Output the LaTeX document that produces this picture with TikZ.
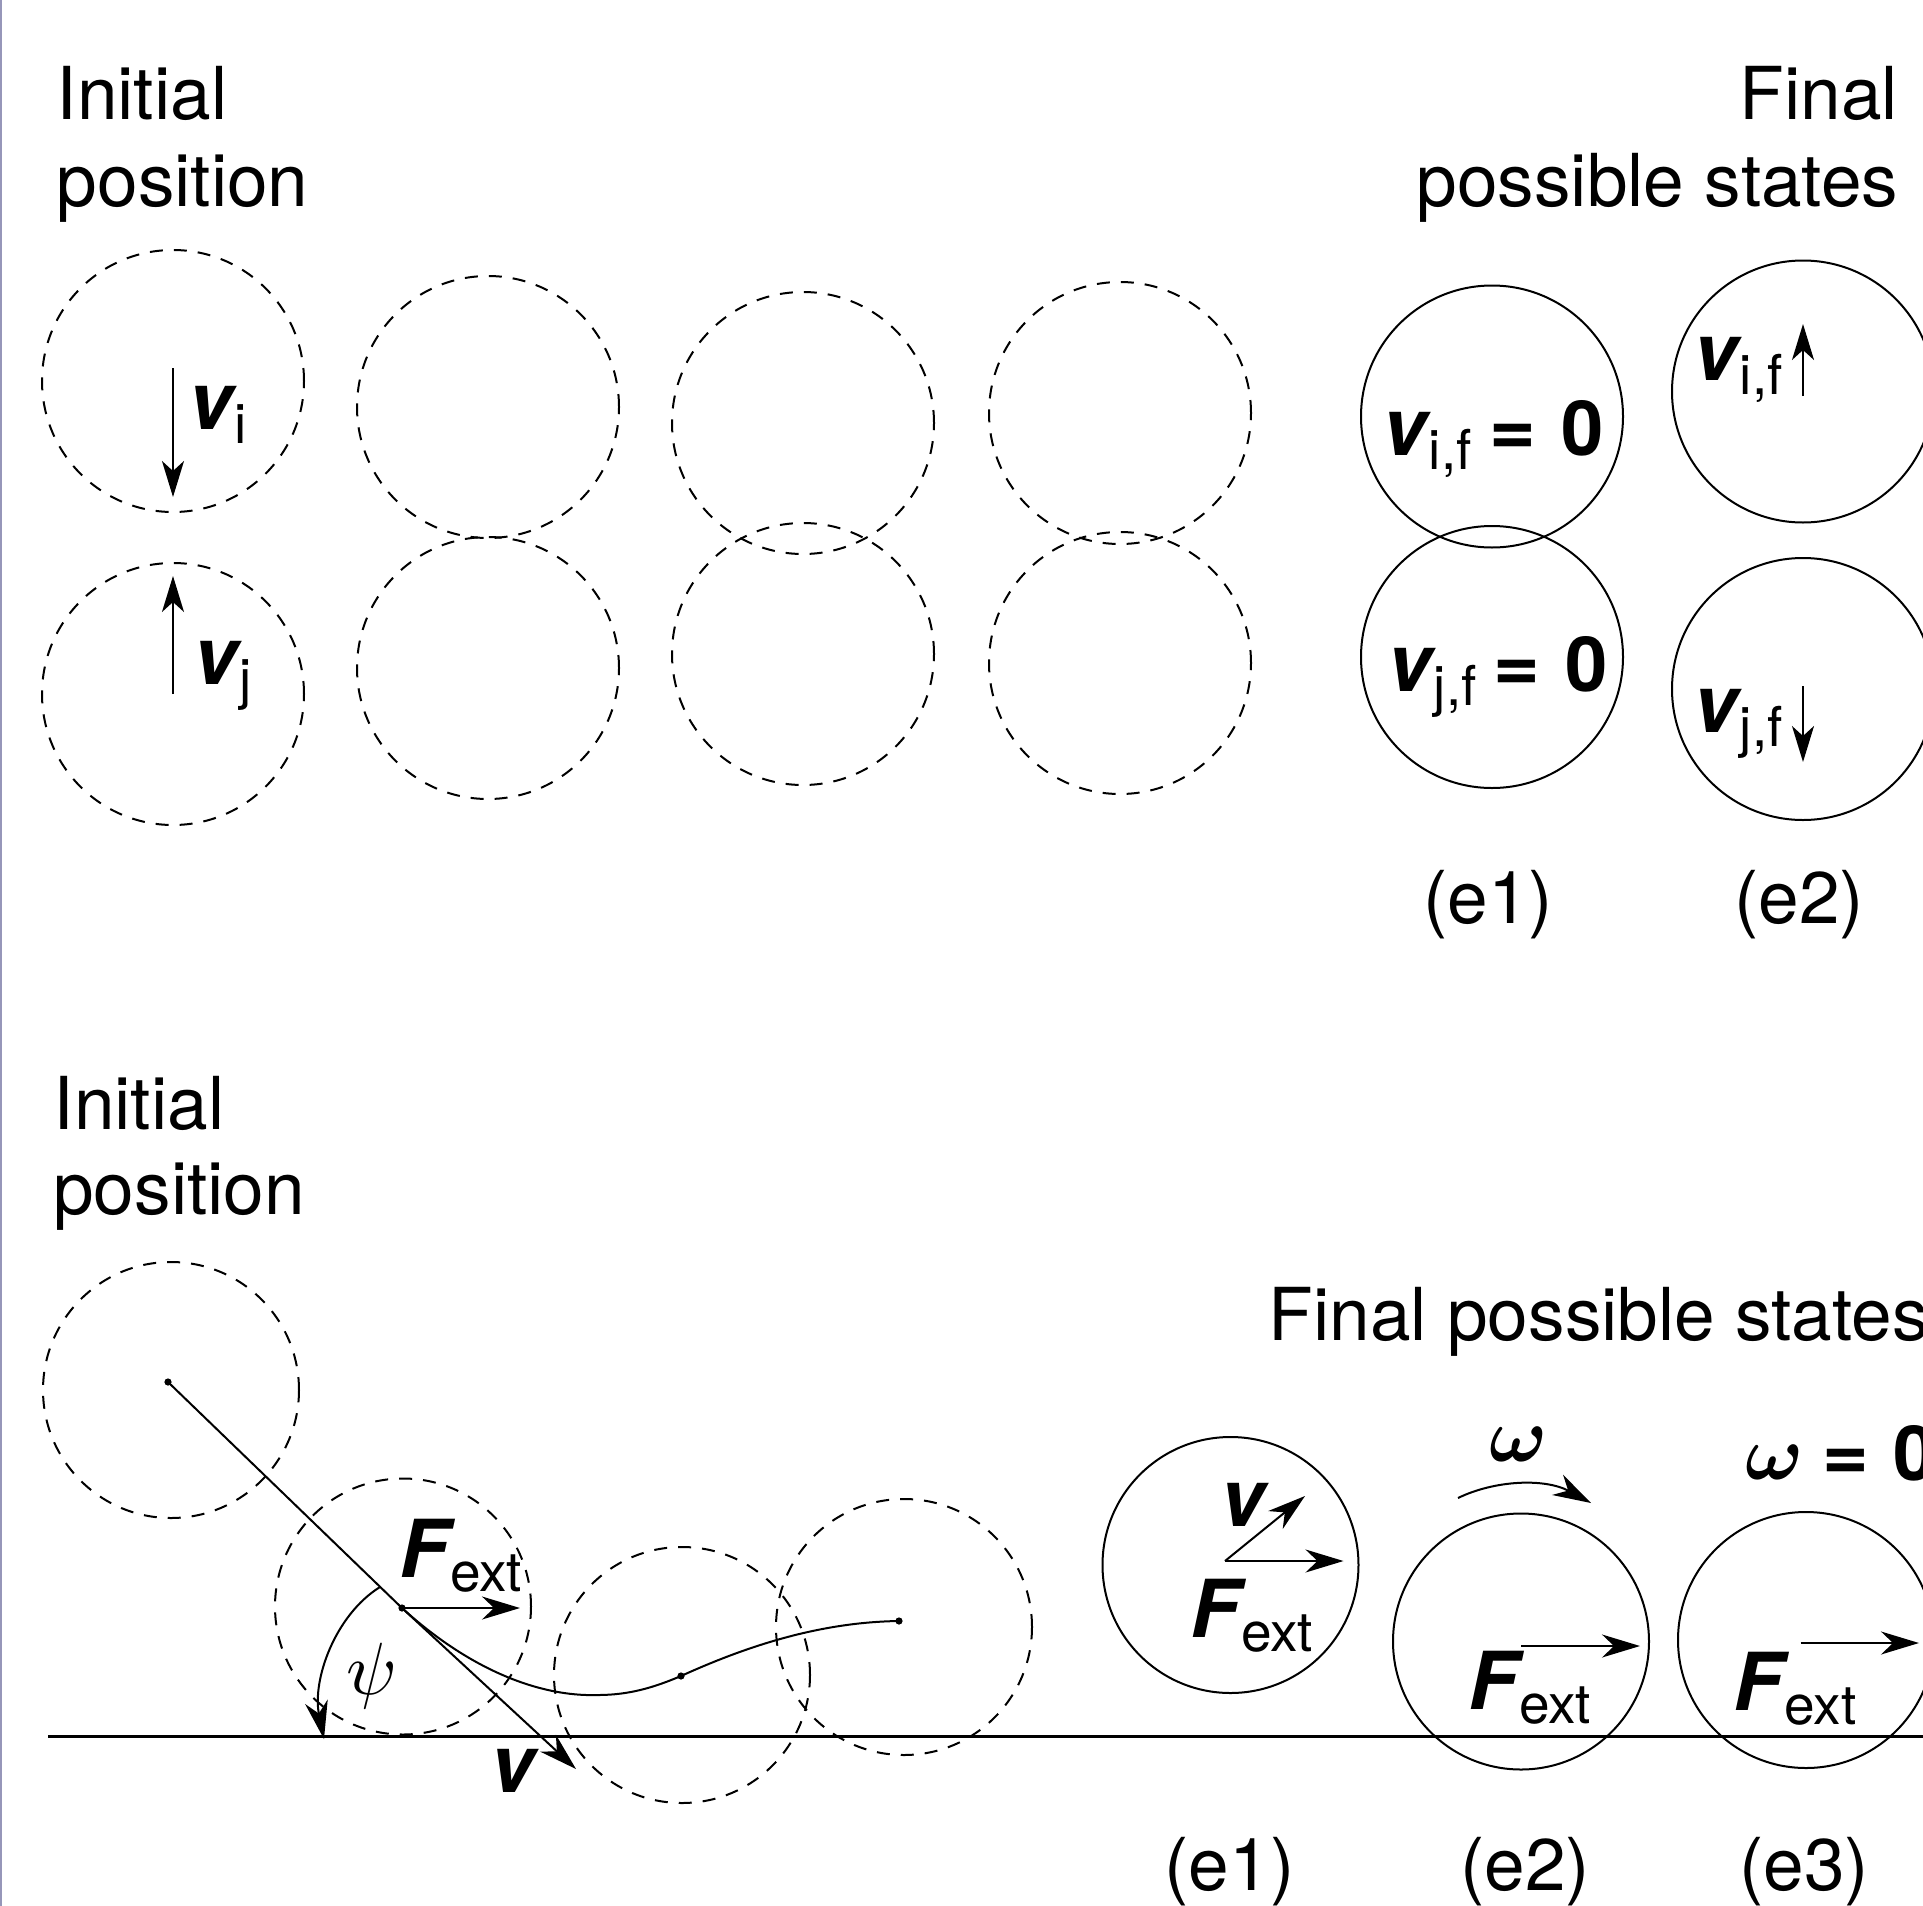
\documentclass[tikz,border=0pt]{standalone}
\usepackage{fontspec}
\usepackage{amsmath}
\usepackage{graphicx}
\setmainfont{TeX Gyre Heros}
\usetikzlibrary{arrows.meta}
\newcommand\mainsz{\fontsize{36.5}{40}\selectfont}
\newcommand\boldsz{\fontsize{40}{44}\selectfont}
\newcommand\subsz{\fontsize{27.5}{30}\selectfont}
\newcommand\VS[2]{{\boldsz\bfseries\itshape #1}\kern1pt\raisebox{-7pt}{\subsz #2}}
\newcommand\BV{{\boldsz\bfseries\itshape v}}
\newcommand\EQZ{{\boldsz\bfseries =}\hspace{12.4pt}{\fontsize{38}{44}\selectfont\bfseries 0}}
\newcommand\bigpsi{\scalebox{3.7}{\normalsize$\psi$}}
\newcommand\bigom{\scalebox{3.85}{\normalsize$\boldsymbol{\omega}$}}
\tikzset{
  ln/.style={line width=1pt},
  dcirc/.style={circle,draw,ln,minimum size=131pt,inner sep=0pt,dash pattern=on 6.5pt off 5.5pt},
  scirc/.style={circle,draw,ln,minimum size=131pt,inner sep=0pt},
  dcircb/.style={dcirc,minimum size=128pt},
  scircb/.style={scirc,minimum size=128pt},
  txt/.style={font=\mainsz,inner sep=0pt,anchor=base west},
  txtr/.style={txt,anchor=base east},
  txtc/.style={txt,anchor=base},
  arr/.style={ln,-{Stealth[length=18pt,width=11pt,inset=5pt]}},
  arrb/.style={ln,-{Stealth[length=19pt,width=11.5pt,inset=6pt]}},
  dotn/.style={circle,fill,inner sep=0pt,minimum size=3.6pt},
}
\begin{document}
\begin{tikzpicture}[x=.5pt,y=-.5pt]
\useasboundingbox (0,0) rectangle (1923,1906);
\clip (0,0) rectangle (1923,1906);
\fill[white] (0,0) rectangle (1923,1906);
\fill[color={rgb,255:red,150;green,150;blue,185}] (0,0) rectangle (1.8,1906);

% top: headings
\node[txt] (t1) at (56.5,119) {Initial};
\node[txt] (t2) at (56.5,206) {position};
\node[txtr] (t3) at (1898.5,119) {Final};
\node[txtr] (t4) at (1898.5,206) {possible states};

% top: dashed
\node[dcirc] (a1) at (173,381) {};
\node[dcirc] (a2) at (173,694) {};
\node[dcirc] (b1) at (488,407) {};
\node[dcirc] (b2) at (488,668) {};
\node[dcirc] (c1) at (803,423) {};
\node[dcirc] (c2) at (803,654) {};
\node[dcirc] (d1) at (1120,413) {};
\node[dcirc] (d2) at (1120,663) {};

% top: vi, vj
\coordinate (vi0) at (173,368);
\coordinate (vi1) at (173,497);
\coordinate (vj0) at (173,694);
\coordinate (vj1) at (173,576);
\draw[arr] (vi0) -- (vi1);
\draw[arr] (vj0) -- (vj1);
\node[txt] (vit) at (188,429) {\VS{v}{i}};
\node[txt] (vjt) at (193,684) {\VS{v}{j}};

% top: solid
\node[scirc] (e1) at (1492,416.5) {};
\node[scirc] (e2) at (1492,657) {};
\node[scirc] (f1) at (1803,391.5) {};
\node[scirc] (f2) at (1803,689) {};
\node[txt] (e1t) at (1382,455) {\VS{v}{i,f}\hspace{9pt}\EQZ};
\node[txt] (e2t) at (1387,691) {\VS{v}{j,f}\hspace{8.5pt}\EQZ};
\node[txt] (f1t) at (1693,380) {\VS{v}{i,f}};
\node[txt] (f2t) at (1693,732) {\VS{v}{j,f}};
\coordinate (fa0) at (1803,396);
\coordinate (fa1) at (1803,324);
\coordinate (fb0) at (1803,686);
\coordinate (fb1) at (1803,762);
\draw[arr] (fa0) -- (fa1);
\draw[arr] (fb0) -- (fb1);
\node[txtc] (l1) at (1488,923.5) {(e1)};
\node[txtc] (l2) at (1799,923.5) {(e2)};

% bottom: headings
\node[txt] (u1) at (53.5,1129) {Initial};
\node[txt] (u2) at (53,1214.5) {position};
\node[txt] (u3) at (1268.5,1340.5) {Final possible states};

% bottom: dashed
\node[dcircb] (g1) at (171,1390) {};
\node[dcircb] (g2) at (403,1606.5) {};
\node[dcircb] (g3) at (682,1675) {};
\node[dcircb] (g4) at (904,1627) {};

% ground
\coordinate (gl) at (48,1736.5);
\coordinate (gr) at (1923,1736.5);
\draw[ln,line width=1.2pt] (gl) -- (gr);

% trajectory
\node[dotn] (p1) at (168,1382) {};
\node[dotn] (p2) at (402,1608) {};
\node[dotn] (p3) at (681,1676) {};
\node[dotn] (p4) at (899,1621) {};
\coordinate (vtip) at (576,1769);
\coordinate (ftip) at (520,1608);
\draw[ln] (p1.center) -- (p2.center);
\draw[arrb] (p2.center) -- (vtip);
\draw[arrb] (p2.center) -- (ftip);
\draw[ln] (p2.center) .. controls (470,1670) and (540,1697) .. (598,1695)
  .. controls (630,1695) and (655,1687) .. (p3.center)
  .. controls (760,1640) and (830,1622) .. (p4.center);
\node[txt] (ft) at (399,1577) {\VS{F}{ext}};
\node[txt] (vt) at (490,1792) {\BV};
\coordinate (ps0) at (380,1587);
\coordinate (ps1) at (324,1739);
\draw[arrb] (ps0) .. controls (335,1615) and (312,1680) .. (ps1);
\node[inner sep=0pt] (psit) at (372,1676) {\bigpsi};

% bottom: solid
\node[scircb] (h1) at (1230.5,1565) {};
\node[scircb] (h2) at (1521,1641.5) {};
\node[scircb] (h3) at (1806,1640) {};

\coordinate (o1) at (1225,1561);
\coordinate (o1v) at (1305,1496);
\coordinate (o1f) at (1343.5,1561);
\draw[arrb] (o1) -- (o1v);
\draw[arrb] (o1) -- (o1f);
\node[txt] (h1v) at (1220,1526) {\BV};
\node[txt] (h1f) at (1190,1637) {\VS{F}{ext}};

\coordinate (o2) at (1521,1646);
\coordinate (o2f) at (1640,1646);
\draw[arrb] (o2) -- (o2f);
\node[txt] (h2f) at (1468,1709) {\VS{F}{ext}};

\coordinate (o3) at (1800.5,1643);
\coordinate (o3f) at (1919,1643);
\draw[arrb] (o3) -- (o3f);
\node[txt] (h3f) at (1733,1710) {\VS{F}{ext}};

\coordinate (w0) at (1458,1498);
\coordinate (w1) at (1591,1503);
\draw[arrb] (w0) .. controls (1495,1480) and (1545,1478) .. (w1);
\node[inner sep=0pt] (om2) at (1519,1444) {\bigom};
\node[inner sep=0pt] (om3) at (1775,1462) {\bigom};
\node[txt] (om3e) at (1822,1480) {\EQZ};

\node[txtc] (m1) at (1229.5,1890) {(e1)};
\node[txtc] (m2) at (1525,1890) {(e2)};
\node[txtc] (m3) at (1804,1890) {(e3)};
\end{tikzpicture}
\end{document}
